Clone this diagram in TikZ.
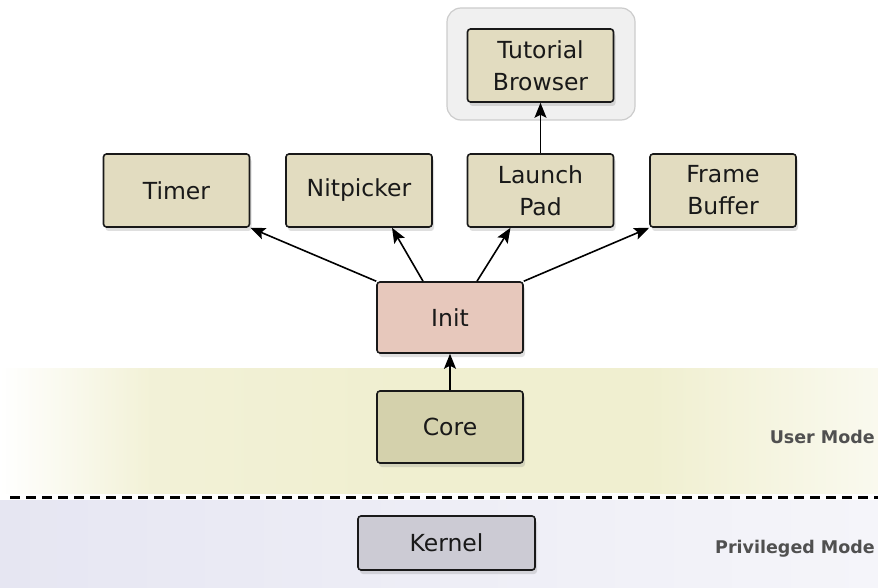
\documentclass[tikz,border=0pt]{standalone}
\usepackage{fontspec}
\setmainfont{DejaVu Sans}
\usetikzlibrary{arrows.meta,shadows,calc}
\definecolor{beige}{RGB}{226,220,192}
\definecolor{initc}{RGB}{231,200,188}
\definecolor{corec}{RGB}{212,209,172}
\definecolor{kernc}{RGB}{204,203,212}
\definecolor{bandy}{RGB}{240,239,208}
\definecolor{bandl}{RGB}{230,230,242}
\definecolor{modec}{RGB}{80,80,80}
\definecolor{grpfill}{RGB}{240,240,240}
\definecolor{grpdraw}{RGB}{204,204,204}
\tikzset{
  box/.style={draw=black!90, line width=1.6pt, rounded corners=3pt, fill=beige,
    minimum width=146pt, minimum height=73pt, inner sep=0pt, align=center,
    font=\fontsize{23.5}{32}\selectfont, text=black!90,
    drop shadow={opacity=0.25, shadow xshift=2pt, shadow yshift=-4pt}},
  modelabel/.style={font=\bfseries\fontsize{17.5}{20}\selectfont, text=modec, anchor=east, inner sep=0pt},
  arr/.style={line width=1.6pt, -{Stealth[length=15pt,width=12pt,inset=3pt]}}
}
\begin{document}
\begin{tikzpicture}[x=1pt,y=-1pt]
\useasboundingbox (0,0) rectangle (878,588);
% background bands
\shade[left color=white, right color=bandy!85] (0,368) rectangle (150,493);
\shade[left color=bandy!85, right color=bandy] (150,368) rectangle (400,493);
\fill[bandy] (400,368) rectangle (650,493);
\shade[left color=bandy, right color=bandy!35] (650,368) rectangle (878,493);
\shade[left color=bandl, right color=bandl!40] (0,500) rectangle (878,588);
\draw[line width=3pt, dash pattern=on 10pt off 6pt] (10,497) -- (878,497);
% group around Tutorial Browser
\node[draw=grpdraw, fill=grpfill, line width=1.2pt, rounded corners=14pt,
  minimum width=188pt, minimum height=112pt] (grp) at (541,64) {};
% nodes
\node[box] (tut) at (540.5,65.5) {Tutorial\\Browser};
\node[box] (timer) at (176.5,190.5) {Timer};
\node[box] (nit) at (359,190.5) {Nitpicker};
\node[box] (lp) at (540.5,190.5) {Launch\\Pad};
\node[box] (fb) at (723,190.5) {Frame\\Buffer};
\node[box, fill=initc, minimum height=71pt] (init) at (450,317.5) {Init};
\node[box, fill=corec, minimum height=72pt] (core) at (450,427) {Core};
\node[box, fill=kernc, minimum width=177pt, minimum height=54pt] (kern) at (446.5,543) {Kernel};
\node[modelabel] (um) at (875,437) {User Mode};
\node[modelabel] (pm) at (875,549) {Privileged Mode};
% connectors
\draw[arr] (lp.north) -- (tut.south);
\draw[arr] (core.north) -- (init.south);
\draw[arr] (init.north west) -- (timer.south east);
\draw[arr] ($(init.north)+(-27,0)$) -- ($(nit.south)+(33,0)$);
\draw[arr] ($(init.north)+(27,0)$) -- ($(lp.south)+(-30,0)$);
\draw[arr] (init.north east) -- (fb.south west);
\end{tikzpicture}
\end{document}
